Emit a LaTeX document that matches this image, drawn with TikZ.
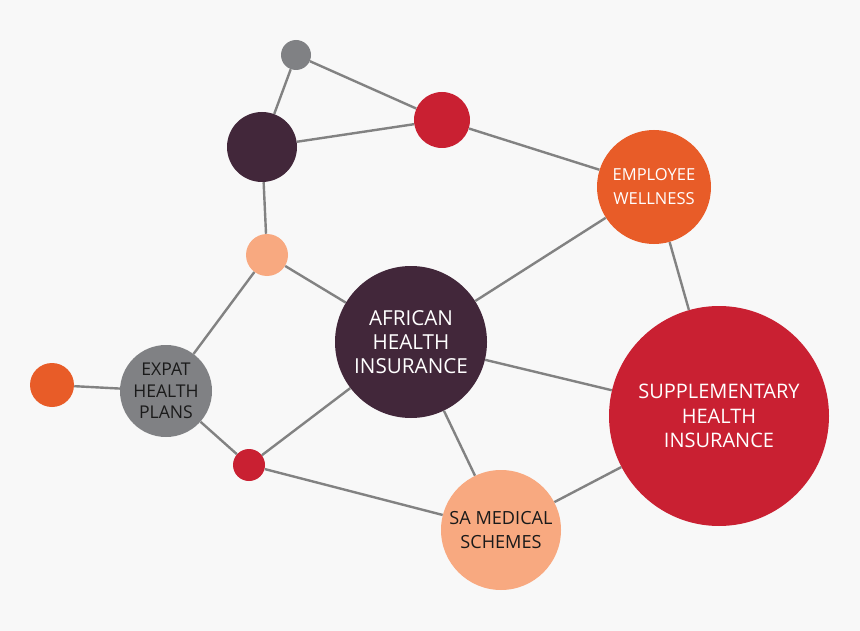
\documentclass[tikz,border=0pt]{standalone}
\usepackage{fontspec}
\setmainfont{Open Sans}
\definecolor{bgc}{HTML}{F8F8F8}
\definecolor{plum}{HTML}{42273A}
\definecolor{crim}{HTML}{C92032}
\definecolor{orng}{HTML}{E85C28}
\definecolor{peach}{HTML}{F8A980}
\definecolor{grayn}{HTML}{808184}
\definecolor{linec}{HTML}{828282}
\definecolor{txtd}{HTML}{1A1A1A}
\tikzset{
  dot/.style={circle, inner sep=0pt, draw=none, minimum size=#1*1.5pt},
  lbl/.style={align=center, font=#1},
  link/.style={draw=linec, line width=1.8pt},
}
\begin{document}
\begin{tikzpicture}[x=0.75pt, y=-0.75pt]
\useasboundingbox[fill=bgc] (0,0) rectangle (860,631);
% nodes
\node[dot=15, fill=grayn] (g1) at (296,55) {};
\node[dot=35, fill=plum] (p1) at (262,147) {};
\node[dot=28, fill=crim] (r1) at (442,120) {};
\node[dot=57, fill=orng, text=white, font=\fontsize{12.4pt}{18pt}\selectfont, align=center] (ew) at (654,187) {EMPLOYEE\\WELLNESS};
\node[dot=21, fill=peach] (pe1) at (267,255) {};
\node[dot=76, fill=plum, text=white, font=\fontsize{15.5pt}{18pt}\selectfont, align=center] (ahi) at (411,342) {AFRICAN\\HEALTH\\INSURANCE};
\node[dot=110, fill=crim, text=white, font=\fontsize{15pt}{18.5pt}\selectfont, align=center] (shi) at (719,416) {SUPPLEMENTARY\\HEALTH\\INSURANCE};
\node[dot=46, fill=grayn, text=txtd, font=\fontsize{13.2pt}{16pt}\selectfont, align=center] (ex) at (166,391) {EXPAT\\HEALTH\\PLANS};
\node[dot=22, fill=orng] (o1) at (52,385) {};
\node[dot=16, fill=crim] (r2) at (249,465) {};
\node[dot=60, fill=peach, text=txtd, font=\fontsize{13.6pt}{18pt}\selectfont, align=center] (sa) at (501,530) {SA MEDICAL\\SCHEMES};
% links
\draw[link] (g1) -- (p1);
\draw[link] (g1) -- (r1);
\draw[link] (p1) -- (r1);
\draw[link] (r1) -- (ew);
\draw[link] (p1) -- (pe1);
\draw[link] (pe1) -- (ahi);
\draw[link] (pe1) -- (ex);
\draw[link] (ew) -- (ahi);
\draw[link] (ew) -- (shi);
\draw[link] (ahi) -- (shi);
\draw[link] (ahi) -- (sa);
\draw[link] (ahi) -- (r2);
\draw[link] (ex) -- (o1);
\draw[link] (ex) -- (r2);
\draw[link] (r2) -- (sa);
\draw[link] (sa) -- (shi);
\end{tikzpicture}
\end{document}
